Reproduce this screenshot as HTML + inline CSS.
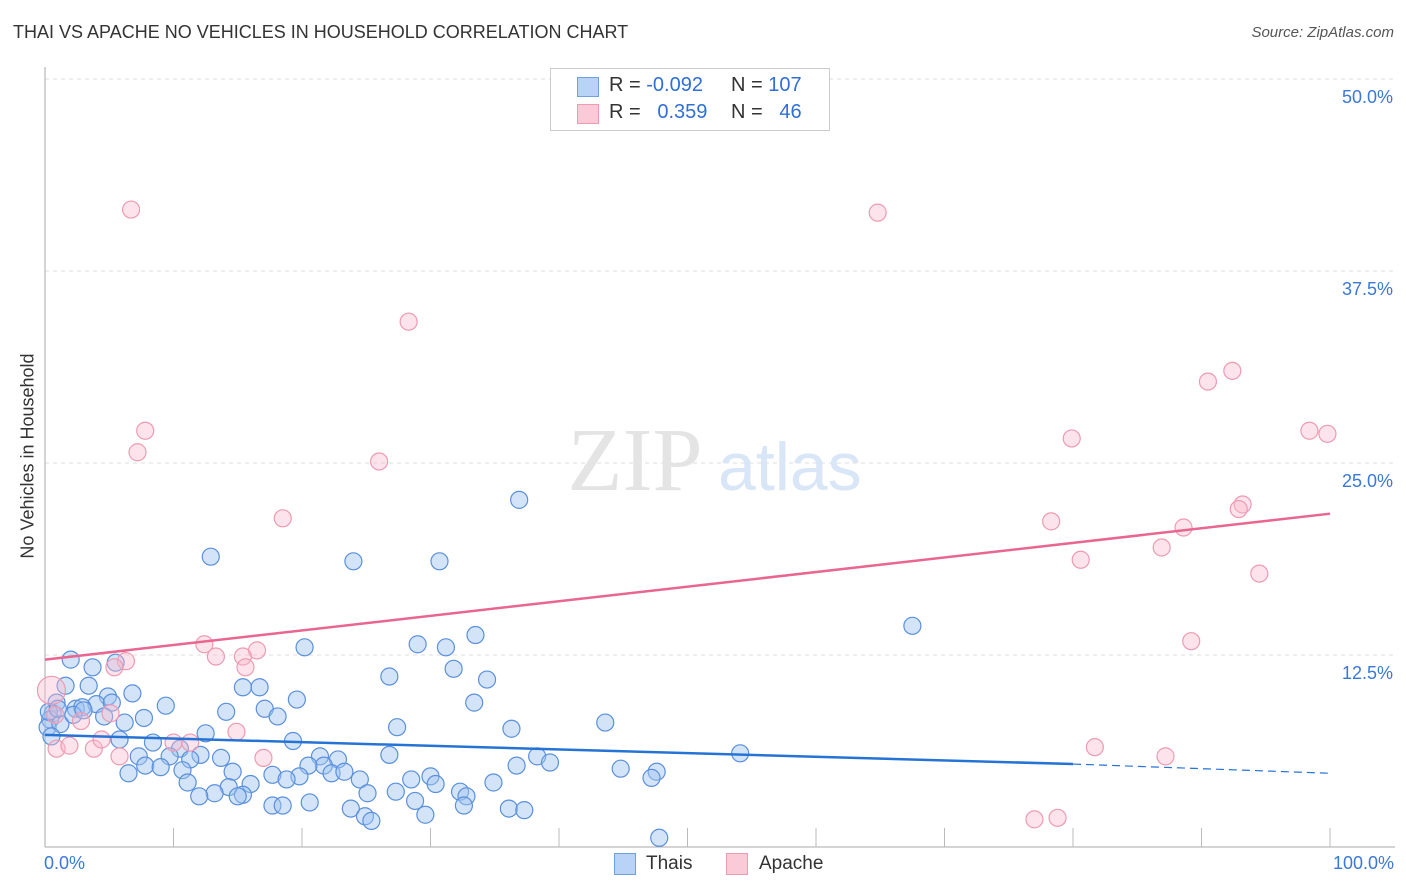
<!DOCTYPE html>
<html><head><meta charset="utf-8"><style>
body{margin:0;background:#fff;font-family:"Liberation Sans",sans-serif;}
#wrap{position:relative;width:1406px;height:892px;overflow:hidden;}
.t{position:absolute;white-space:nowrap;}
</style></head><body>
<div id="wrap">
<div class="t" style="left:13px;top:22px;font-size:18px;color:#333;">THAI VS APACHE NO VEHICLES IN HOUSEHOLD CORRELATION CHART</div>
<div class="t" style="right:12px;top:24px;font-size:15px;color:#555;font-style:italic;">Source: ZipAtlas.com</div>
<svg id="svg" width="1406" height="892" style="position:absolute;left:0;top:0"></svg>
<div class="t" style="left:28px;top:456px;font-size:18px;color:#333;transform:translate(-50%,-50%) rotate(-90deg);">No Vehicles in Household</div>
<div style="position:absolute;left:550px;top:68px;width:278px;height:61px;border:1px solid #ccc;background:#fff;font-size:20px;">
 <div style="position:absolute;left:26px;top:8px;width:20px;height:18px;background:#b8d3f5;border:1px solid #6fa0e0;"></div>
 <div class="t" style="left:58px;top:5px;color:#333;">R = <span style="color:#2f6fd6">-0.092</span></div>
 <div class="t" style="left:180px;top:5px;color:#333;">N = <span style="color:#2f6fd6">107</span></div>
 <div style="position:absolute;left:26px;top:35px;width:20px;height:18px;background:#fbcad8;border:1px solid #ee9ab2;"></div>
 <div class="t" style="left:58px;top:32px;color:#333;">R = <span style="color:#2f6fd6">&nbsp;&nbsp;0.359</span></div>
 <div class="t" style="left:180px;top:32px;color:#333;">N = <span style="color:#2f6fd6">&nbsp;&nbsp;46</span></div>
</div>
<div style="position:absolute;left:614px;top:853px;width:20px;height:20px;background:#b8d3f5;border:1px solid #6fa0e0;"></div>
<div class="t" style="left:646px;top:853px;font-size:19px;color:#333;">Thais</div>
<div style="position:absolute;left:726px;top:853px;width:20px;height:20px;background:#fbcad8;border:1px solid #ee9ab2;"></div>
<div class="t" style="left:759px;top:853px;font-size:19px;color:#333;">Apache</div>
<div class="t" style="left:44px;top:853px;font-size:18px;color:#3a78d8;">0.0%</div>
<div class="t" style="right:12px;top:853px;font-size:18px;color:#3a78d8;">100.0%</div>
</div>
<script>
const yTicks=[12.5,25,37.5,50];
const yTickLabels=["12.5%","25.0%","37.5%","50.0%"];
const xTicks=[10,20,30,40,50,60,70,80,90,100];
const thaisX=[36.9,12.9,24.0,30.7,67.5,33.5,20.2,29.0,31.2,2.0,3.7,5.5,26.8,34.4,31.8,1.6,3.4,15.4,16.7,6.8,4.9,19.6,0.9,4.0,5.2,9.4,17.1,33.4,2.4,2.9,14.1,0.6,7.7,18.1,4.6,6.2,27.4,36.3,43.6,12.5,5.8,8.4,19.3,10.5,54.1,7.3,13.7,12.1,9.7,11.3,26.8,38.3,21.4,22.8,7.8,9.0,10.7,14.6,21.7,20.5,36.7,39.3,44.8,47.6,6.5,17.7,19.8,22.3,23.3,30.0,11.1,16.0,18.8,28.5,24.5,30.4,34.9,47.2,14.3,13.2,12.0,32.3,27.3,25.1,15.4,15.0,20.6,28.8,32.8,32.6,17.7,18.5,23.8,36.1,37.3,29.6,24.9,25.4,47.8,0.4,0.2,0.3,1.2,2.2,3.0,0.5,1.0];
const thaisY=[22.6,18.9,18.6,18.6,14.4,13.8,13.0,13.2,13.0,12.2,11.7,12.0,11.1,10.9,11.6,10.5,10.5,10.4,10.4,10.0,9.8,9.6,9.4,9.3,9.4,9.2,9.0,9.4,9.0,9.1,8.8,8.7,8.4,8.5,8.5,8.1,7.8,7.7,8.1,7.4,7.0,6.8,6.9,6.4,6.1,5.9,5.8,6.0,5.9,5.7,6.0,5.9,5.9,5.7,5.3,5.2,5.0,4.9,5.3,5.3,5.3,5.5,5.1,4.9,4.8,4.7,4.6,4.8,4.9,4.6,4.2,4.1,4.4,4.4,4.4,4.1,4.2,4.5,3.9,3.5,3.3,3.6,3.6,3.5,3.4,3.3,2.9,3.0,3.3,2.7,2.7,2.7,2.5,2.5,2.4,2.1,2.0,1.7,0.6,8.3,7.8,8.8,8.0,8.6,8.9,7.2,9.0];
const apacheX=[6.7,64.8,28.3,7.8,7.2,26.0,18.5,92.4,90.5,79.9,98.4,99.8,93.2,92.9,78.3,88.6,86.9,80.6,94.5,89.2,12.4,16.5,13.3,15.4,6.3,15.6,5.4,0.5,0.8,2.8,5.1,0.9,1.9,3.8,4.4,10.0,11.3,14.9,17.0,5.8,81.7,87.2,77.0,78.8];
const apacheY=[41.5,41.3,34.2,27.1,25.7,25.1,21.4,31.0,30.3,26.6,27.1,26.9,22.3,22.0,21.2,20.8,19.5,18.7,17.8,13.4,13.2,12.8,12.4,12.4,12.1,11.7,11.7,10.2,8.6,8.2,8.7,6.4,6.6,6.4,7.0,6.8,6.8,7.5,5.8,5.9,6.5,5.9,1.8,1.9];
const thaisTrend=[7.3,5.4,4.8];
const thaisTrendX=[0,80,100];
const apacheTrend=[12.2,21.7];
const NS="http://www.w3.org/2000/svg";
const svg=document.getElementById('svg');
const X=v=>45+v*12.85, Y=v=>847-v*15.36;
function mk(tag,a){const e=document.createElementNS(NS,tag);for(const k in a)e.setAttribute(k,a[k]);svg.appendChild(e);return e;}
yTicks.forEach((t,i)=>{
 const l=mk('line',{x1:45,x2:1395,y1:Y(t),y2:Y(t),stroke:'#ddd','stroke-dasharray':'4,4'});
 
 
 const tx=mk('text',{x:1393,y:Y(t)+24,'text-anchor':'end','font-size':18,fill:'#3a78d8','font-family':'Liberation Sans'});
 tx.textContent=yTickLabels[i];
 
 
});
const wm=mk('text',{x:720,y:490,'text-anchor':'middle','font-size':90,fill:'#e4e4e4','font-family':'Liberation Serif'});
wm.textContent='ZIP';


wm.setAttribute('x',635);
const wm2=mk('text',{x:718,y:490,'font-size':68,fill:'#d8e6f7','font-family':'Liberation Sans'});
wm2.textContent='atlas';


mk('line',{x1:45,x2:45,y1:67,y2:847,stroke:'#aaa'});
mk('line',{x1:45,x2:1395,y1:847,y2:847,stroke:'#aaa'});
xTicks.forEach(t=>{const l=mk('line',{x1:X(t),x2:X(t),y1:828,y2:847,stroke:'#bbb'});
 
 });
thaisX.forEach((x,i)=>{const c=mk('circle',{cx:X(x),cy:Y(thaisY[i]),r:8.5,fill:'rgba(160,195,240,0.45)',stroke:'#5a90dc','stroke-width':1.2});
 
 });
apacheX.forEach((x,i)=>{const c=mk('circle',{cx:X(x),cy:Y(apacheY[i]),r:i==27?14:8.5,fill:'rgba(250,185,205,0.4)',stroke:'#ee9ab2','stroke-width':1.2});
 
 });
const b1=mk('line',{x1:X(thaisTrendX[0]),y1:Y(thaisTrend[0]),x2:X(thaisTrendX[1]),y2:Y(thaisTrend[1]),stroke:'#2673d6','stroke-width':2.5});


const b2=mk('line',{x1:X(thaisTrendX[1]),y1:Y(thaisTrend[1]),x2:X(thaisTrendX[2]),y2:Y(thaisTrend[2]),stroke:'#2673d6','stroke-width':1.2,'stroke-dasharray':'8,5'});


const p=mk('line',{x1:X(0),y1:Y(apacheTrend[0]),x2:X(100),y2:Y(apacheTrend[1]),stroke:'#e8668f','stroke-width':2.5});


</script>
</body></html>
